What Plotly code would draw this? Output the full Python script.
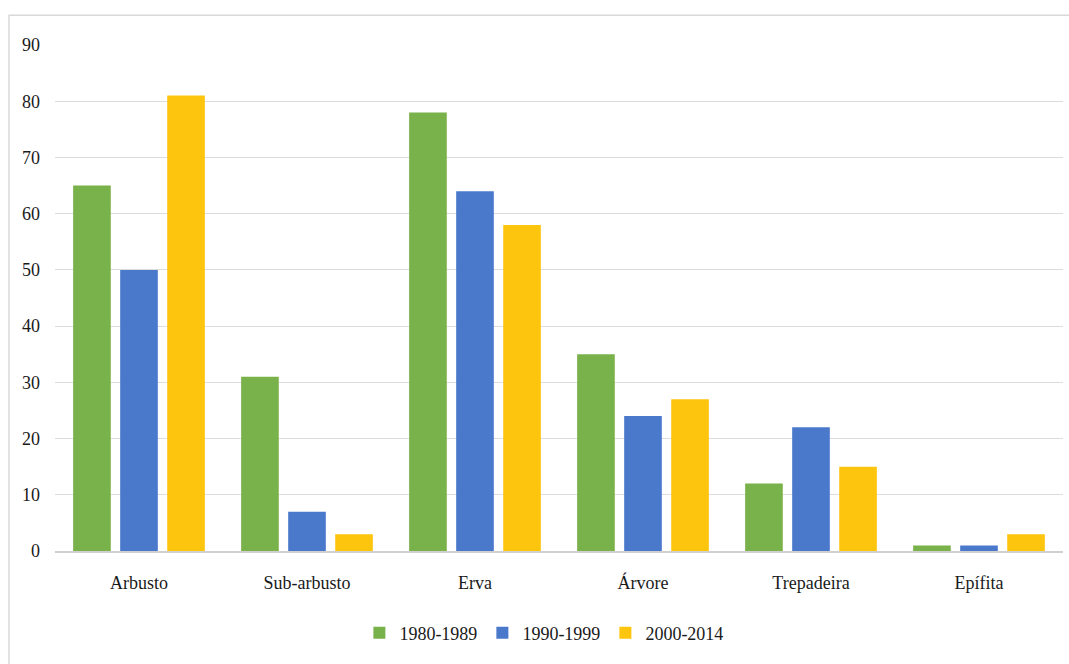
import plotly.graph_objects as go

categories = ["Arbusto", "Sub-arbusto", "Erva", "Árvore", "Trepadeira", "Epífita"]
series_names = ["1980-1989", "1990-1999", "2000-2014"]
values_1980 = [65, 31, 78, 35, 12, 1]
values_1990 = [50, 7, 64, 24, 22, 1]
values_2000 = [81, 3, 58, 27, 15, 3]
y_ticks = [0, 10, 20, 30, 40, 50, 60, 70, 80, 90]

colors = ["#79B24B", "#4A78CB", "#FEC50E"]
series_values = [values_1980, values_1990, values_2000]

fig = go.Figure()
for name, vals, col in zip(series_names, series_values, colors):
    fig.add_trace(go.Bar(
        x=categories, y=vals, name=name,
        marker=dict(color=col, line=dict(width=0)),
    ))

font_family = "Times New Roman, Liberation Serif, DejaVu Serif, serif"

fig.update_layout(
    width=1069, height=664,
    margin=dict(l=55, r=6, t=45, b=113),
    paper_bgcolor="white", plot_bgcolor="white",
    barmode="group", bargap=0.16, bargroupgap=0.2,
    font=dict(family=font_family, size=18, color="#1a1a1a"),
    showlegend=True,
    legend=dict(
        orientation="h", x=0.485, xanchor="center", y=-0.162, yanchor="middle",
        font=dict(family=font_family, size=18, color="#1a1a1a"),
        itemwidth=30, tracegroupgap=0,
    ),
    xaxis=dict(
        showgrid=False, showline=True, linecolor="#d0d0d0", linewidth=2,
        ticks="", ticklabelstandoff=14,
        tickfont=dict(family=font_family, size=18),
    ),
    yaxis=dict(
        range=[0, 90], tickvals=y_ticks, showgrid=True, gridcolor="#dcdcdc",
        gridwidth=1, zeroline=False, showline=False, ticks="",
        ticklabelstandoff=14,
        tickfont=dict(family=font_family, size=18),
    ),
    shapes=[dict(
        type="rect", xref="paper", yref="paper",
        x0=-0.0456, x1=1.02, y0=-0.25, y1=1.059,
        line=dict(color="#d9d9d9", width=1.5), fillcolor="rgba(0,0,0,0)",
        layer="below",
    )],
)

fig.write_html("out.html")
